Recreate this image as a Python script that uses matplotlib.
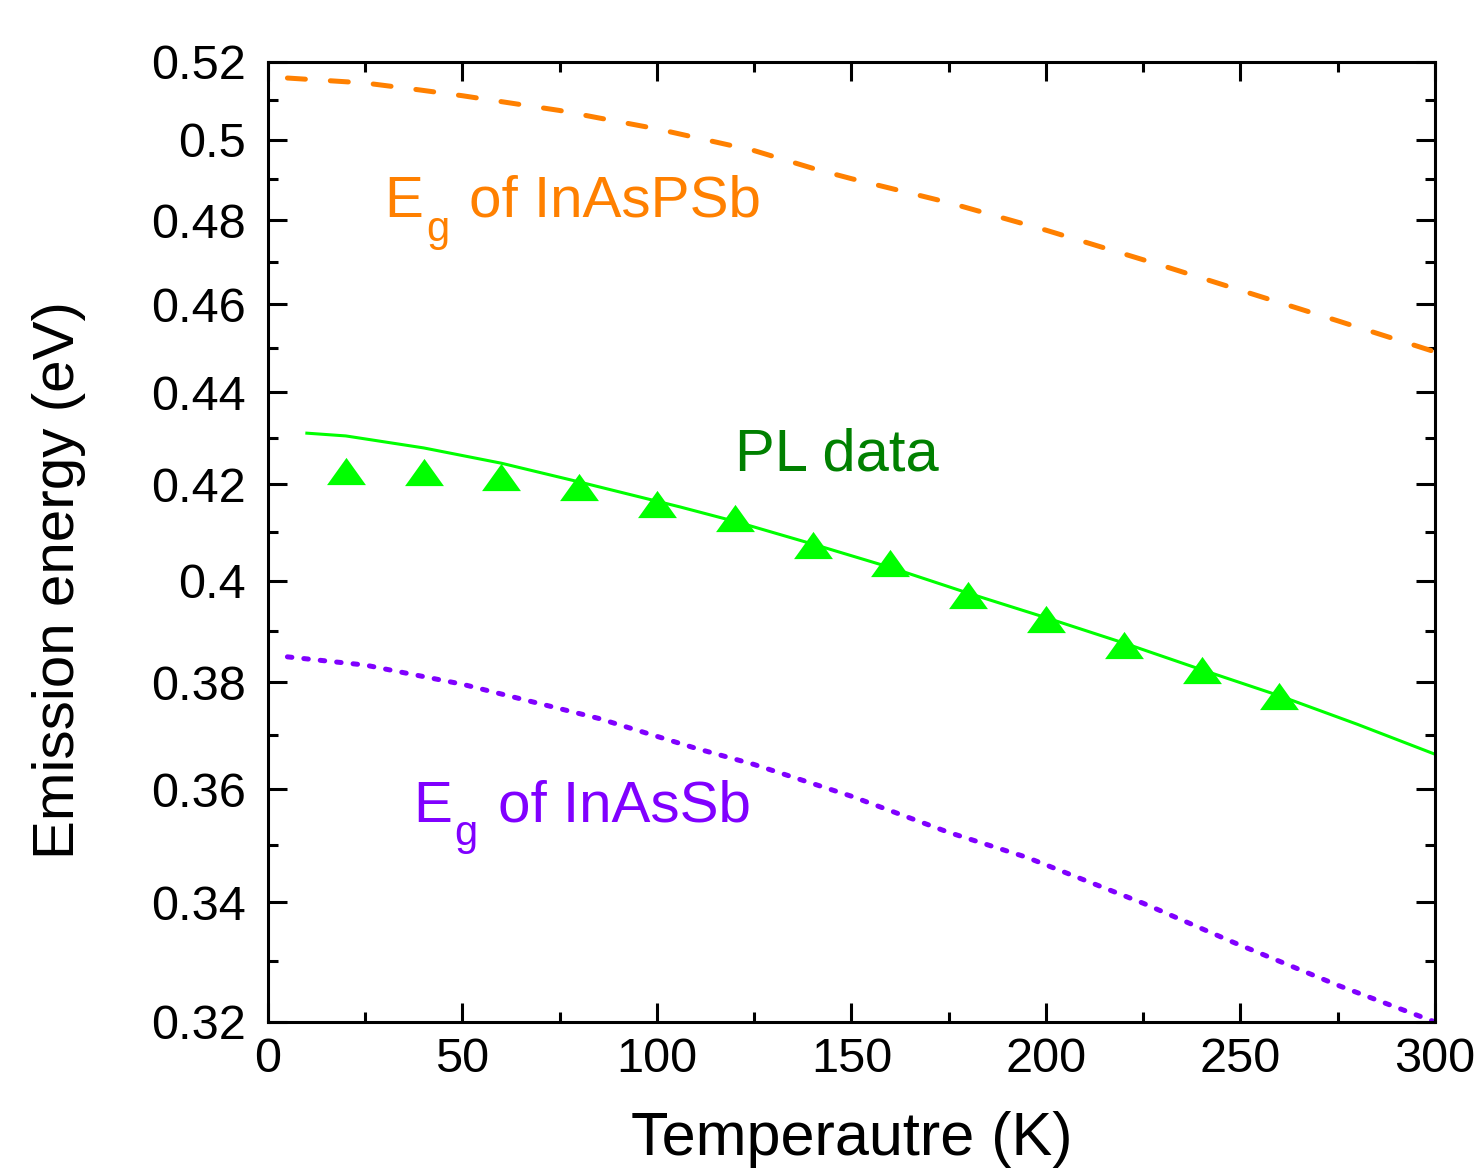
import numpy as np
import matplotlib
matplotlib.use("Agg")
import matplotlib.pyplot as plt
from matplotlib.ticker import FixedLocator, NullFormatter, FuncFormatter

plt.rcParams['font.family'] = ['Liberation Sans', 'DejaVu Sans']

# PL peak energies (K, eV)
pl_temp = [20, 40, 60, 80, 100, 120, 140, 160, 180, 200, 220, 240, 260]
pl_energy = [0.4228, 0.4226, 0.4216, 0.4194, 0.4158, 0.4129, 0.4073,
             0.4036, 0.3971, 0.3924, 0.3872, 0.3824, 0.3774]

# fit through the PL data
fit_temp = [10, 20, 40, 60, 80, 106, 120, 140, 160, 180, 200, 220, 240, 260, 280, 300]
fit_energy = [0.4310, 0.4304, 0.4278, 0.4245, 0.4205, 0.4152, 0.4122, 0.4075,
              0.4027, 0.3975, 0.3926, 0.3876, 0.3824, 0.3774, 0.3720, 0.3664]

# band gap of the InAsPSb barrier
eg_barrier_temp = [5, 25, 39, 50, 75, 85, 100, 125, 141, 150, 175, 188, 200,
                   225, 231, 250, 275, 300]
eg_barrier = [0.5158, 0.5145, 0.5127, 0.5112, 0.5074, 0.5055, 0.5027, 0.4972,
              0.4925, 0.4902, 0.4843, 0.4808, 0.4776, 0.4705, 0.4688, 0.4633,
              0.4562, 0.4491]

# band gap of the InAsSb well
eg_well_temp = [5, 25, 50, 85, 110, 125, 150, 175, 195, 225, 248, 275, 300]
eg_well = [0.3849, 0.3833, 0.3796, 0.3731, 0.3675, 0.3645, 0.3587, 0.3522,
           0.3478, 0.3398, 0.3332, 0.3260, 0.3200]

y_major = [0.32, 0.34, 0.36, 0.38, 0.40, 0.42, 0.44, 0.46, 0.48, 0.50, 0.52]
y_minor = [0.33, 0.35, 0.37, 0.39, 0.41, 0.43, 0.45, 0.47, 0.49, 0.51]

fig = plt.figure(figsize=(14.78, 11.74), dpi=100)
ax = fig.add_axes([0.1813, 0.1295, 0.7896, 0.8177])

ax.plot(eg_barrier_temp, eg_barrier, color='#FF8000', lw=3.6,
        dashes=(3.6, 5.0), dash_capstyle='round')
ax.plot(eg_well_temp, eg_well, color='#8000FF', lw=3.6,
        dashes=(0.9, 2.4), dash_capstyle='round')
ax.plot(fit_temp, fit_energy, color='#00FF00', lw=2.2)

tri = [(-1.0, -0.7), (1.0, -0.7), (0.0, 0.7), (-1.0, -0.7)]
ax.plot(pl_temp, pl_energy, ls='none', marker=tri, ms=28,
        color='#00FF00', mec='#00FF00', mew=0)

# labels; the subscript g is set a little lower than mathtext would put it
def eg_label(x, y, rest, color):
    t = ax.text(x, y, 'E', color=color, fontsize=42, ha='left', va='baseline')
    ax.annotate('g', xy=(x, y), xycoords='data', xytext=(30, -17),
                textcoords='offset points', color=color, fontsize=30,
                ha='left', va='baseline')
    ax.annotate(rest, xy=(x, y), xycoords='data', xytext=(61, 0),
                textcoords='offset points', color=color, fontsize=42,
                ha='left', va='baseline')
    return t

eg_label(30, 0.4808, 'of InAsPSb', '#FF8000')
eg_label(37.3, 0.3541, 'of InAsSb', '#8000FF')
ax.text(120, 0.4229, 'PL data', color='#008000',
        fontsize=43, ha='left', va='baseline')

ax.set_yscale('log')
ax.set_xlim(0, 300)
ax.set_ylim(0.32, 0.52)
ax.xaxis.set_major_locator(FixedLocator([0, 50, 100, 150, 200, 250, 300]))
ax.xaxis.set_minor_locator(FixedLocator([25, 75, 125, 175, 225, 275]))
ax.yaxis.set_major_locator(FixedLocator(y_major))
ax.yaxis.set_minor_locator(FixedLocator(y_minor))
ax.yaxis.set_major_formatter(FuncFormatter(lambda v, p: f"{v:g}"))
ax.yaxis.set_minor_formatter(NullFormatter())

for s in ax.spines.values():
    s.set_linewidth(2.2)
ax.tick_params(which='both', direction='in', top=True, right=True,
               width=2.2, labelsize=35)
ax.tick_params(which='major', length=14)
ax.tick_params(which='minor', length=7)
ax.tick_params(axis='x', pad=11)
ax.tick_params(axis='y', pad=16)

ax.set_xlabel('Temperautre (K)', fontsize=44)
ax.set_ylabel('Emission energy (eV)', fontsize=42)
ax.xaxis.set_label_coords(0.5, -0.093)
ax.yaxis.set_label_coords(-0.156, 0.46)

fig.savefig('out.png', dpi=100)
